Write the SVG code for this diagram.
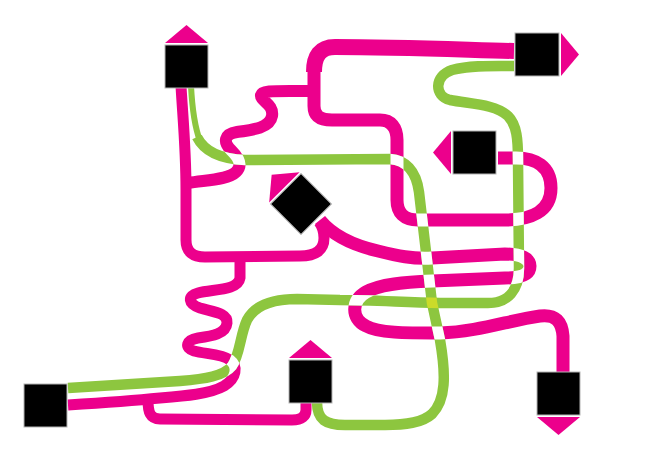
<svg xmlns="http://www.w3.org/2000/svg" xmlns:xlink="http://www.w3.org/1999/xlink" width="660" height="467" viewBox="0 0 660 467">
<style>
.pk{fill:none;stroke:#EC008C;stroke-linejoin:round;stroke-linecap:butt}
.gr{fill:none;stroke:#8DC63F;stroke-linejoin:round;stroke-linecap:butt}
.wh{fill:none;stroke:#FFFFFF;stroke-linejoin:round}
.ye{fill:none;stroke:#CBDB2A;stroke-linejoin:round}
.box{fill:#000;stroke:#b4b4b4;stroke-width:1}
.tri{fill:#EC008C}
</style>
<defs>
<mask id="mPink" maskUnits="userSpaceOnUse" x="0" y="0" width="660" height="467">
<g fill="none" stroke="#fff">
<use xlink:href="#p1"/><use xlink:href="#p2"/><use xlink:href="#p3a"/><use xlink:href="#p3b"/><use xlink:href="#p4"/><use xlink:href="#p5"/><use xlink:href="#p6"/>
</g>
</mask>
<mask id="mG1" maskUnits="userSpaceOnUse" x="0" y="0" width="660" height="467">
<g fill="none" stroke="#fff"><use xlink:href="#g1"/></g>
</mask>
</defs>
<rect width="660" height="467" fill="#fff"/>
<g id="connectors">
<g class="pk">
<path id="p1" stroke-width="11" d="M181,86 C183,120 186,150 186,190 L186,240 C186,252 193,257 205,257 L300,256 C316,256 324,250 324,238 C324,231 322,226 319,222"/>
<path id="p2" stroke-width="12" d="M188,183 C205,180 228,180 236,172 C244,164 237,156 231,150 C223,142 224,134 237,132 C252,130 270,128 272,116 C274,104 260,101 261,95 C262,91 272,91 290,91 L314,91"/>
<path id="p3a" stroke-width="16" d="M514,51 C470,50 400,47 335,47 C320,47 314,56 314,72"/>
<path id="p3b" stroke-width="13" d="M314,68 L314,106 C314,116 320,120 332,120 L380,120 C391,120 397,127 397,140 L397,200 C397,213 404,220 418,220 L505,220 C530,220 551,212 551,188 C551,166 535,158 516,158 L498,158"/>
<path id="p4" stroke-width="13" d="M320,220 C333,236 352,245 378,251 C398,256 412,259 432,258 L505,254 C522,254 530,259 530,266 C530,274 522,278 505,278 L432,281 C405,282 380,284 366,292 C352,300 350,318 366,326 C378,333 405,333 440,333 C478,332 510,320 540,316 C556,314 562,322 563,336 L563,373"/>
<path id="p5" stroke-width="11" d="M68,405 C100,403 130,401 160,398 C185,396 210,394 224,386 C237,378 238,366 230,360 C222,354 205,354 194,351 C184,348 186,340 198,338 C212,336 226,334 227,323 C228,313 214,312 200,308 C188,304 187,296 198,293 C212,289 238,291 240,278 L240,258"/>
<path id="p6" stroke-width="11" d="M148,400 C148,412 150,419 160,419 L292,420 C302,420 306,416 306,410 L306,402"/>
</g>
<g class="gr">
<path id="g1" stroke-width="10.5" d="M514,66 C495,66 470,65 452,70 C434,76 434,96 450,100 C470,104 495,104 508,116 C517,125 518,140 518,160 L519,268 C519,290 508,303 488,303 L440,303 C400,302 370,300 340,300 L297,299 C272,299 255,305 247,320 C240,335 240,355 232,366 C224,376 205,379 180,381 L68,388"/>
<path id="g2a" stroke-width="6" d="M191,86 C192,105 194,125 200,141"/>
<path id="g2b" stroke-width="10.5" d="M197,137 C204,151 220,159 245,160 L390,159 C405,160 416,170 419,192 L432,303 L440,340 C446,375 446,400 432,414 C422,423 405,425 385,425 L345,425 C326,425 317,420 317,402"/>
</g>
<g class="wh" mask="url(#mPink)">
<use xlink:href="#g1"/><use xlink:href="#g2a"/><use xlink:href="#g2b"/>
</g>
<g class="ye" mask="url(#mG1)">
<use xlink:href="#g2b"/>
</g>
</g>
<g id="nodeA"><polygon class="tri" points="165,43 208,43 186.5,25"/><rect class="box" x="165" y="45" width="43" height="43"/></g>
<g id="nodeB"><polygon class="tri" points="561,33 561,76 579,54.5"/><rect class="box" x="515" y="33" width="44" height="43"/></g>
<g id="nodeC"><polygon class="tri" points="451,131 451,174 433,152.5"/><rect class="box" x="453" y="131" width="43" height="43"/></g>
<g id="nodeD" transform="rotate(-45 301 204)"><polygon class="tri" points="279.5,180.5 322.5,180.5 301,162.5"/><rect class="box" x="279.5" y="182.5" width="43" height="43"/></g>
<g id="nodeE"><polygon class="tri" points="289,358 332,358 310.5,340"/><rect class="box" x="289" y="360" width="43" height="43"/></g>
<g id="nodeF"><rect class="box" x="24" y="384" width="43" height="43"/></g>
<g id="nodeG"><polygon class="tri" points="537,417 580,417 558.5,435"/><rect class="box" x="537" y="372" width="43" height="43"/></g>
</svg>
